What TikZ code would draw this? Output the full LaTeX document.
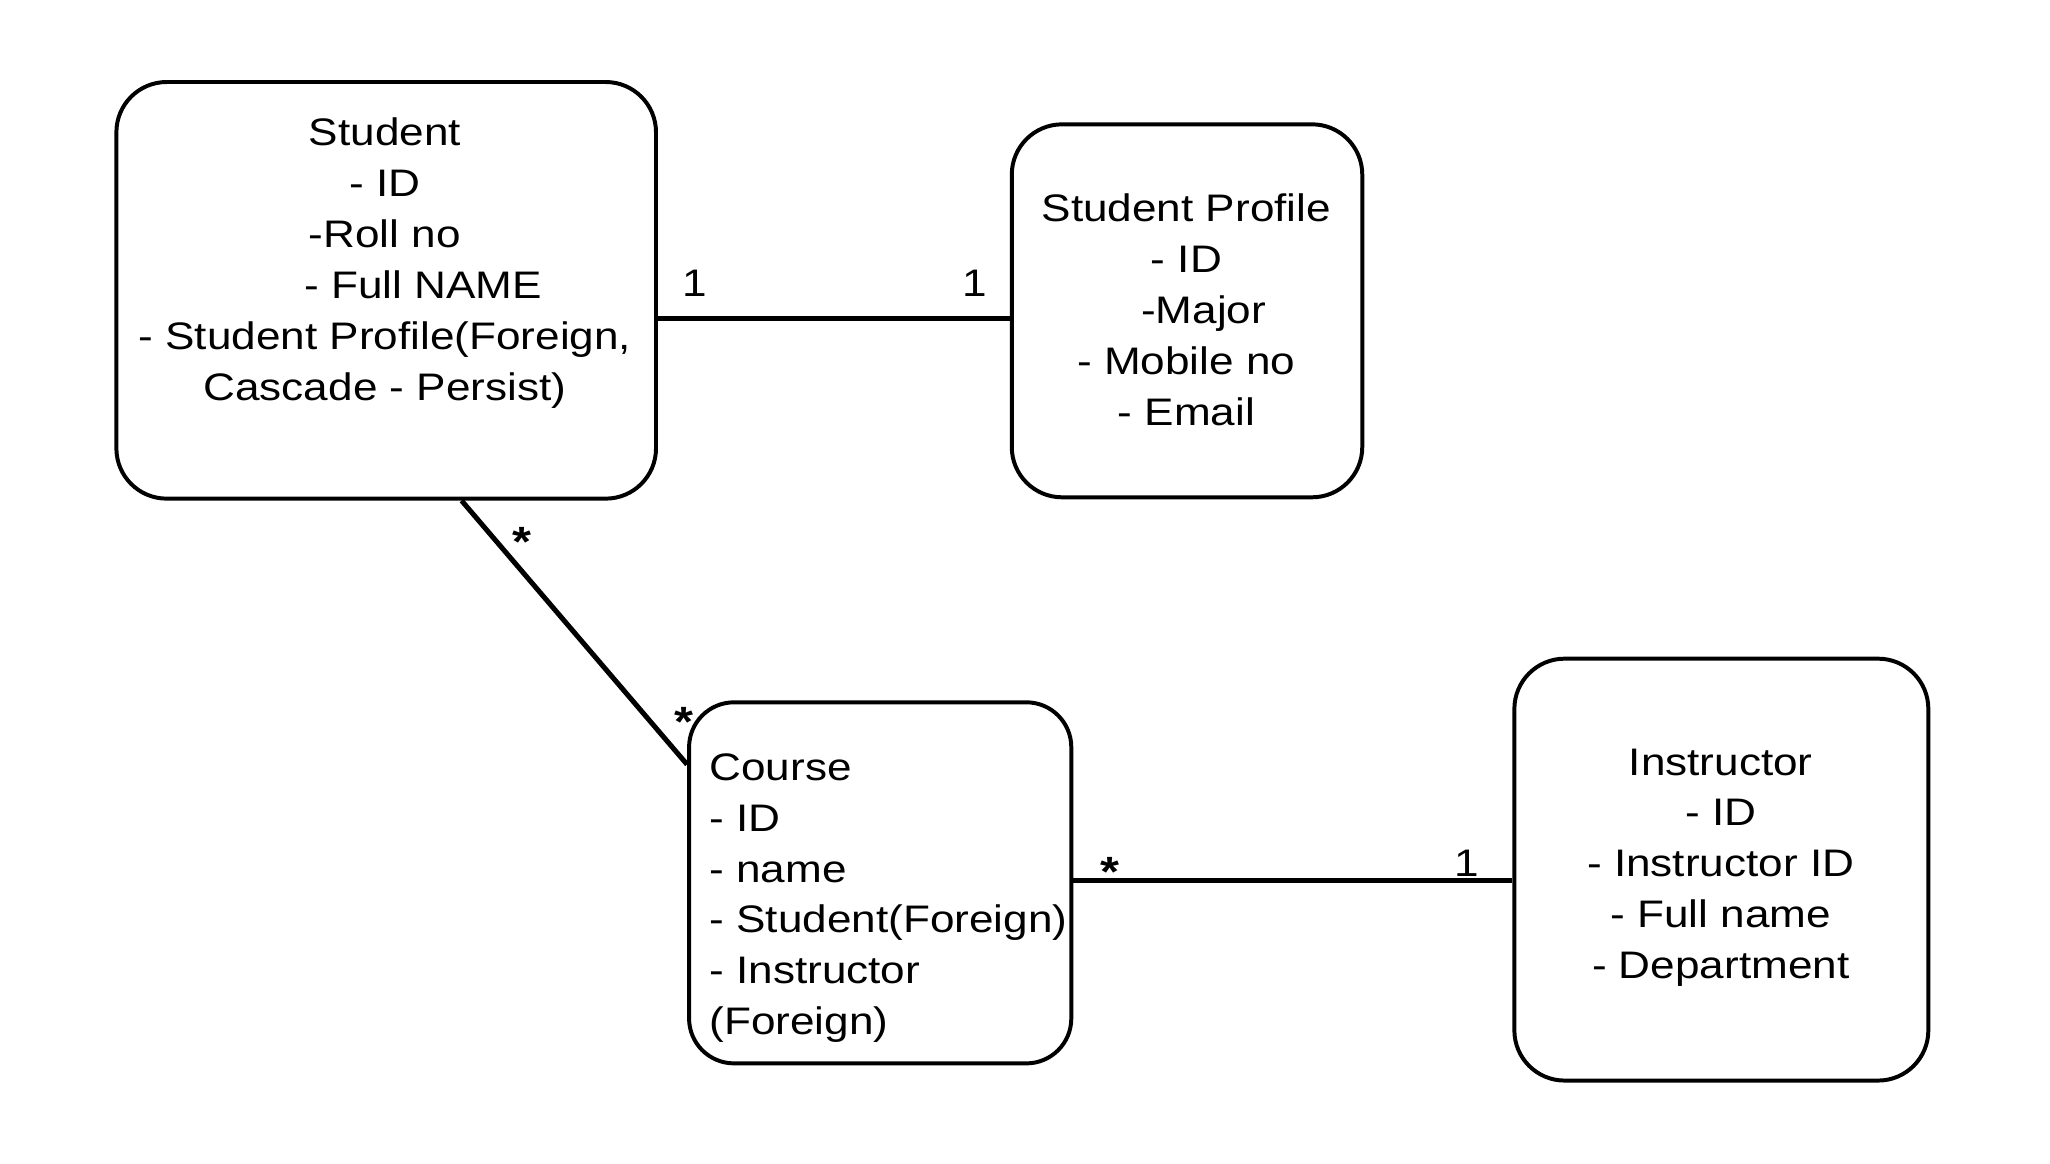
\documentclass[tikz,border=0pt]{standalone}
\usepackage{fontspec}
\setmainfont[FakeStretch=1.15]{Liberation Sans}
\begin{document}
\begin{tikzpicture}[x=0.5pt,y=-0.5pt,
  entity/.style={draw, line width=1.5pt, rounded corners=19pt, inner sep=0pt},
  label/.style={font=\fontsize{14.5}{19.25}\selectfont, inner sep=0pt},
  mult/.style={font=\fontsize{14.5}{17}\selectfont, inner sep=0pt},
  star/.style={font=\fontsize{16}{17}\bfseries\selectfont, inner sep=0pt},
  conn/.style={line width=1.9pt}]
\useasboundingbox (0,0) rectangle (1550,880);
% boxes
\node[entity, minimum width=204pt, minimum height=157.5pt] (stu) at (292,219.5) {};
\node[entity, minimum width=132.5pt, minimum height=141pt] (prof) at (897.5,235) {};
\node[entity, minimum width=144.5pt, minimum height=136.5pt, rounded corners=17pt] (crs) at (665.5,667.5) {};
\node[entity, minimum width=156.5pt, minimum height=159.5pt] (ins) at (1301.5,657.5) {};
% texts
\node[label, align=center] (stuT) at (291,199) {Student\\- ID\\-Roll no\\\hspace*{2.0em}- Full NAME\\- Student Profile(Foreign,\\Cascade - Persist)};
\node[label, align=center] (profT) at (897,234) {Student Profile\\- ID\\\hspace*{0.9em}-Major\\- Mobile no\\- Email};
\node[label, align=left, anchor=west] (crsT) at (536,679) {Course\\- ID\\- name\\- Student(Foreign)\\- Instructor\\(Foreign)};
\node[label, align=center] (insT) at (1301,656) {Instructor\\- ID\\- Instructor ID\\- Full name\\- Department};
% connectors
\draw[conn] ([yshift=-10.75pt]stu.east) -- ([yshift=-10.75pt]stu.east -| prof.west);
\draw[conn] ([xshift=28.5pt]stu.south) -- ([yshift=44.75pt]crs.west);
\draw[conn] ([yshift=0.75pt]crs.east) -- ([yshift=0.75pt]crs.east -| ins.west);
% multiplicities
\node[mult] (m1) at (525,214) {1};
\node[mult] (m2) at (737,214) {1};
\node[star] (m3) at (395,410) {*};
\node[star] (m4) at (517,546) {*};
\node[star] (m5) at (839,659) {*};
\node[mult] (m6) at (1109,653) {1};
\end{tikzpicture}
\end{document}
